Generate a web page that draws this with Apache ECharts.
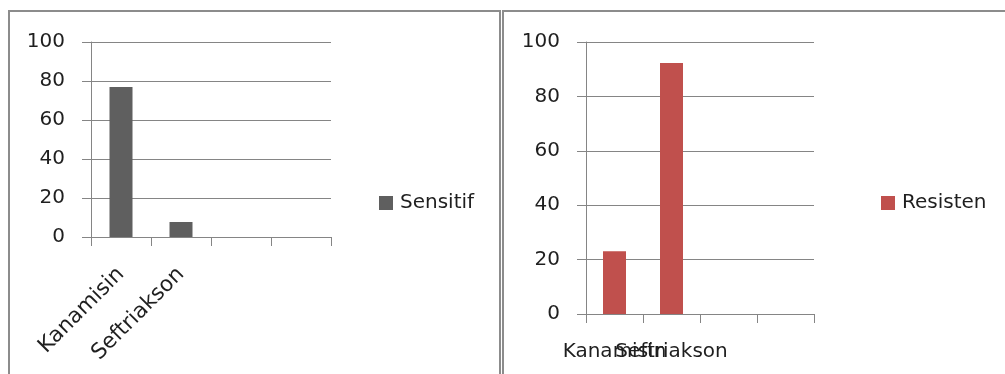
<!DOCTYPE html>
<html>
<head>
<meta charset="utf-8">
<script src="https://cdn.jsdelivr.net/npm/echarts@6/dist/echarts.min.js"></script>
<style>
  html, body { margin: 0; padding: 0; background: #fff; }
  #chart { width: 1005px; height: 374px; }
</style>
</head>
<body>
<div id="chart"></div>
<script>
// data (percent)
const categories = ['Kanamisin', 'Seftriakson', '', ''];
const sensitif = [76.9, 7.7, '-', '-'];
const resisten = [23.1, 92.3, '-', '-'];
const seriesNames = ['Sensitif', 'Resisten'];
const seriesColors = ['#5f5f5f', '#c0504d'];

const font = 'DejaVu Sans';
const textColor = '#1f1f1f';
const lineColor = '#858585';

const chart = echarts.init(document.getElementById('chart'), null, { renderer: 'canvas' });

const xAxisBase = (gridIndex, rotate) => ({
  type: 'category',
  gridIndex,
  data: categories,
  boundaryGap: true,
  axisLine: { show: true, lineStyle: { color: lineColor, width: 1 } },
  axisTick: { show: true, length: 9, alignWithLabel: false, lineStyle: { color: lineColor } },
  axisLabel: {
    interval: 0, rotate, margin: rotate ? 34 : 28,
    fontFamily: font, fontSize: rotate ? 21.5 : 20, color: textColor,
    hideOverlap: false
  },
  splitLine: { show: false }
});

const yAxisBase = (gridIndex) => ({
  type: 'value',
  gridIndex,
  min: 0, max: 100, interval: 20,
  axisLine: { show: true, lineStyle: { color: lineColor, width: 1 } },
  axisTick: { show: true, length: 9, lineStyle: { color: lineColor } },
  axisLabel: { margin: 26, fontFamily: font, fontSize: 20, color: textColor },
  splitLine: { show: true, lineStyle: { color: lineColor, width: 1 } }
});

chart.setOption({
  animation: false,
  backgroundColor: '#fff',
  graphic: [
    { type: 'rect', shape: { x: 9, y: 11, width: 491, height: 380 },
      style: { fill: 'none', stroke: '#8c8c8c', lineWidth: 2 }, z: -1 },
    { type: 'rect', shape: { x: 503, y: 11, width: 520, height: 380 },
      style: { fill: 'none', stroke: '#8c8c8c', lineWidth: 2 }, z: -1 }
  ],
  grid: [
    { left: 91, top: 42, width: 240, height: 195 },
    { left: 586, top: 42, width: 228, height: 272 }
  ],
  legend: [
    {
      data: [seriesNames[0]], left: 374, top: 188, orient: 'vertical',
      icon: 'rect', itemWidth: 14, itemHeight: 14, itemGap: 0,
      textStyle: { fontFamily: font, fontSize: 20, color: textColor, padding: [0, 0, 0, 2] }
    },
    {
      data: [seriesNames[1]], left: 876, top: 188, orient: 'vertical',
      icon: 'rect', itemWidth: 14, itemHeight: 14, itemGap: 0,
      textStyle: { fontFamily: font, fontSize: 20, color: textColor, padding: [0, 0, 0, 2] }
    }
  ],
  xAxis: [xAxisBase(0, 45), xAxisBase(1, 0)],
  yAxis: [yAxisBase(0), yAxisBase(1)],
  series: [
    {
      name: seriesNames[0], type: 'bar', xAxisIndex: 0, yAxisIndex: 0,
      data: sensitif, barWidth: 23, itemStyle: { color: seriesColors[0] }
    },
    {
      name: seriesNames[1], type: 'bar', xAxisIndex: 1, yAxisIndex: 1,
      data: resisten, barWidth: 23, itemStyle: { color: seriesColors[1] }
    }
  ]
});
</script>
</body>
</html>
